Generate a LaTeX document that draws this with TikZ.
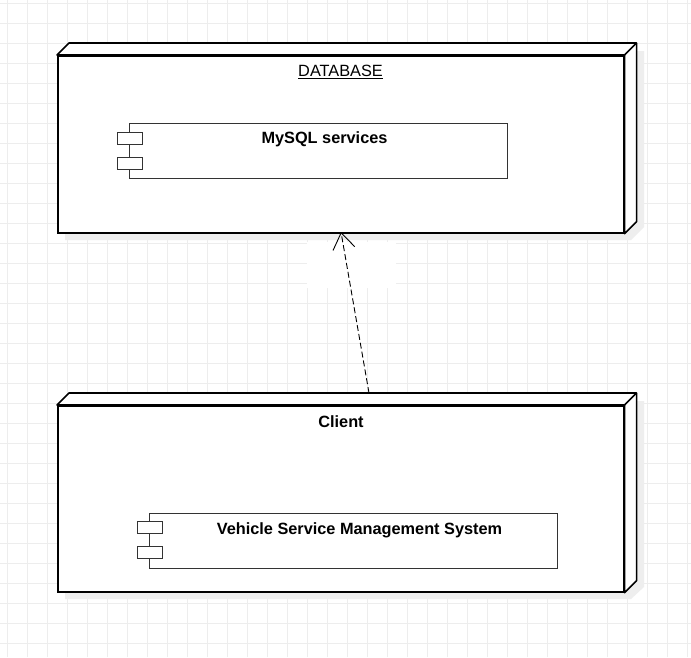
\documentclass[tikz,border=0pt]{standalone}
\usepackage{fontspec}
\setmainfont{Liberation Sans}
\usepackage{tikz}
\usetikzlibrary{arrows.meta, calc, positioning}
\tikzset{>={Straight Barb[length=16pt,width=22pt]}}
\definecolor{gridgray}{HTML}{EDEDED}
\definecolor{shadowgray}{HTML}{EEEEEE}
\definecolor{linegray}{HTML}{333333}
\tikzset{
  gridline/.style={gridgray, line width=1pt},
  cubefront/.style={draw=black, fill=white, line width=1.6pt, minimum width=566pt, inner sep=0pt, anchor=north west},
  cubeface/.style={draw=black, fill=white, line width=1.6pt, line join=round},
  comp/.style={draw=linegray, fill=white, line width=1.4pt, minimum height=55pt, inner sep=0pt, anchor=north west},
  port/.style={draw=linegray, fill=white, line width=1.4pt, minimum width=25pt, minimum height=12pt, inner sep=0pt, anchor=north west},
  nodetext/.style={font=\fontsize{16.3}{19}\selectfont, inner sep=0pt, anchor=base},
  comptext/.style={nodetext, font=\fontsize{16.3}{19}\selectfont\bfseries},
}

\begin{document}
\begin{tikzpicture}[x=1pt, y=-1pt]
  \useasboundingbox (0,0) rectangle (691,657);
  \fill[white] (0,0) rectangle (691,657);
  % background grid
  \foreach \x in {7,27,...,687} \draw[gridline] (\x,0) -- (\x,657);
  \foreach \y in {3,23,...,643} \draw[gridline] (0,\y) -- (691,\y);

  % shadows
  \begin{scope}[shift={(8,8)}]
    \fill[shadowgray] (57,55) -- (69,43) -- (636,43) -- (636,219) -- (623,232) -- (57,232) -- cycle;
    \fill[shadowgray] (57,405) -- (69,393) -- (636,393) -- (636,579) -- (623,591) -- (57,591) -- cycle;
    \fill[shadowgray] (129,123) rectangle (507,178);
    \fill[shadowgray] (149,513) rectangle (557,568);
  \end{scope}

  % database node
  \node[cubefront, minimum height=177pt] (db) at (57,55) {};
  \draw[cubeface] (db.north west) -- ++(12,-12) -- ($(db.north east)+(12,-12)$)
    -- ($(db.south east)+(12,-12)$) -- (db.south east) -- (db.north east) -- cycle;
  \draw[cubeface] (db.north east) -- ++(12,-12);
  \node[nodetext] (dbtext) at (340.5,76.7) {\underline{DATABASE}};

  \node[comp, minimum width=378pt] (mysql) at (129,123) {};
  \node[port] (mysqlp1) at ([shift={(-12,9)}]mysql.north west) {};
  \node[port] (mysqlp2) at ([shift={(-12,34)}]mysql.north west) {};
  \node[comptext] (mysqltext) at (324.5,143.5) {MySQL services};

  % client node
  \node[cubefront, minimum height=186pt] (client) at (57,405) {};
  \draw[cubeface] (client.north west) -- ++(12,-12) -- ($(client.north east)+(12,-12)$)
    -- ($(client.south east)+(12,-12)$) -- (client.south east) -- (client.north east) -- cycle;
  \draw[cubeface] (client.north east) -- ++(12,-12);
  \node[comptext] (clienttext) at (341,427) {Client};

  \node[comp, minimum width=408pt] (vsms) at (149,513) {};
  \node[port] (vsmsp1) at ([shift={(-12,8)}]vsms.north west) {};
  \node[port] (vsmsp2) at ([shift={(-12,33)}]vsms.north west) {};
  \node[comptext] (vsmstext) at (359.5,534) {Vehicle Service Management System};

  % dependency
  \coordinate (deptail) at (369,393);
  \coordinate (dephead) at (341,232);
  \fill[white] (307,242) rectangle (396,288);
  \draw[->, line width=0.9pt, dash pattern=on 6pt off 3pt] (deptail) -- (dephead);
\end{tikzpicture}
\end{document}
